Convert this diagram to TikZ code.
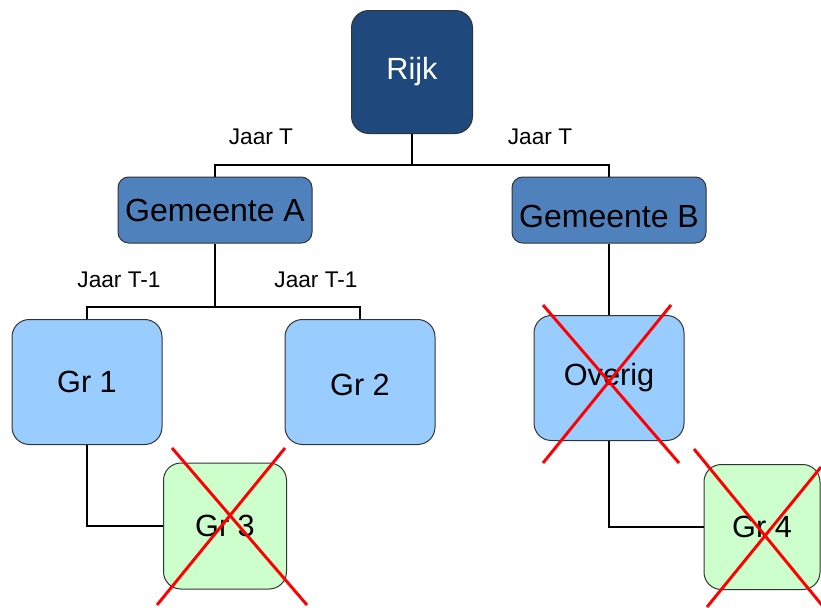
\documentclass[tikz,border=0pt]{standalone}
\usepackage{fontspec}
\setmainfont{Liberation Sans}
\definecolor{rijkblue}{HTML}{1F497D}
\definecolor{gemblue}{HTML}{4F81BD}
\definecolor{grblue}{HTML}{99CCFF}
\definecolor{grgreen}{HTML}{CCFFCC}
\definecolor{boxline}{HTML}{333333}
\tikzset{
  box/.style={draw=boxline, line width=0.75pt, inner sep=0pt, align=center,
    font=\fontsize{23}{27}\selectfont},
  rijkbox/.style={box, fill=rijkblue, text=white, rounded corners=13pt,
    minimum width=90.75pt, minimum height=92.25pt},
  gembox/.style={box, fill=gemblue, rounded corners=8pt,
    minimum width=145.5pt, minimum height=49.5pt, font=\fontsize{24}{28}\selectfont},
  grbox/.style={box, fill=grblue, rounded corners=13pt,
    minimum width=112.5pt, minimum height=93.75pt},
  newbox/.style={box, fill=grgreen, rounded corners=13pt,
    minimum width=92.25pt, minimum height=94.5pt},
  conn/.style={line width=2.2pt},
  cross/.style={draw=red, line width=2.2pt},
  jaar/.style={font=\fontsize{17}{20}\selectfont, inner sep=0pt}
}
\newcommand{\lowered}[2]{\raisebox{-#1}[\height][\depth]{#2}}
\begin{document}
\begin{tikzpicture}[x=0.75pt, y=-0.75pt]
        \useasboundingbox (0,0) rectangle (821,607);
        % junctions
        \coordinate (top)  at (412,165);
        \coordinate (left) at (215,307);
        % boxes
        \node[rijkbox] (rijk) at (412,72) {Rijk};
        \node[gembox] (gemA) at (215,210) {Gemeente A};
        \node[gembox] (gemB) at (609,210) {\lowered{4.5pt}{Gemeente B}};
            \node[grbox] (gr1) at (87,382) {Gr 1};
            \node[grbox] (gr2) at (360,382) {\lowered{2pt}{Gr 2}};
                \node[newbox] (gr3) at (225,526) {Gr 3};
            \node[grbox] (overig) at (609,378) {Overig};
                \node[newbox, minimum width=87pt, minimum height=93.75pt] (gr4) at (762,527) {Gr 4};
        % labels
        \node[jaar] (jtA) at (261,137) {Jaar T};
        \node[jaar] (jtB) at (540,137) {Jaar T};
        \node[jaar] (jt1) at (119,280) {Jaar T-1};
        \node[jaar] (jt2) at (316,280) {Jaar T-1};
        % lines
        \draw[conn] (rijk) -- (top);
        \draw[conn] (gemA) |- (top) -| (gemB);
        \draw[conn] (gemA) -- (left);
        \draw[conn] (gr1) |- (left) -| (gr2);
        \draw[conn] (gemB) -- (overig);
        \draw[conn] (gr1) |- (gr3);
        \draw[conn] (overig) |- (gr4);
        % crossed out
        \draw[cross] (172,448) -- (307,605);
        \draw[cross] (285,448) -- (157,605);
        \draw[cross] (543,305) -- (679,463);
        \draw[cross] (671,305) -- (543,463);
        \draw[cross] (694,449) -- (830,615);
        \draw[cross] (821,467) -- (707,607);
\end{tikzpicture}
\end{document}
